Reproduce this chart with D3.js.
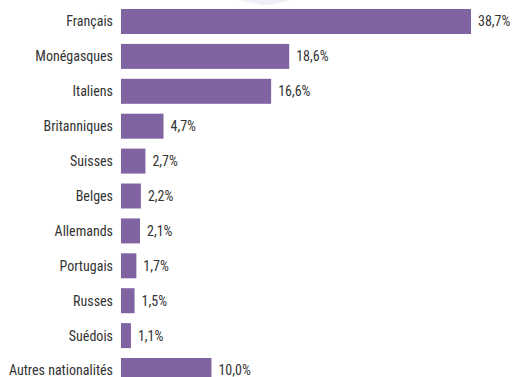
<!DOCTYPE html>
<html><head><meta charset="utf-8">
<script src="https://cdn.jsdelivr.net/npm/d3@7"></script>
<style>
html,body{margin:0;padding:0;background:#fff;}
text{font-family:"Liberation Sans Narrow","Roboto Condensed","Arial Narrow",sans-serif;font-size:14px;fill:#333;}
</style></head>
<body><svg id="c" width="518" height="377"></svg>
<script>
const categories = ["Français","Monégasques","Italiens","Britanniques","Suisses","Belges","Allemands","Portugais","Russes","Suédois","Autres nationalités"];
const values = [38.7,18.6,16.6,4.7,2.7,2.2,2.1,1.7,1.5,1.1,10.0];
const valueLabels = ["38,7%","18,6%","16,6%","4,7%","2,7%","2,2%","2,1%","1,7%","1,5%","1,1%","10,0%"];

const svg = d3.select("#c");
// faint decorative shape at top
svg.append("path").attr("d","M238,0 L292,0 L268,5 L262,5 Z").attr("fill","#f2eef7");

const x0 = 121;
const x = d3.scaleLinear().domain([0, 38.7]).range([x0, 471]);
const y = d3.scaleBand().domain(categories).range([4.05, 387.95]).paddingInner(0.284).paddingOuter(0.142);

const g = svg.append("g");
g.selectAll("rect").data(categories).join("rect")
  .attr("x", x(0)).attr("y", d => y(d))
  .attr("width", (d,i) => x(values[i]) - x(0))
  .attr("height", y.bandwidth())
  .attr("fill", "#8064a2");

g.selectAll("text.cat").data(categories).join("text").attr("class","cat")
  .attr("x", x0 - 8).attr("y", d => y(d) + y.bandwidth()/2)
  .attr("dy","0.35em").attr("text-anchor","end").text(d => d);

g.selectAll("text.val").data(categories).join("text").attr("class","val")
  .attr("x", (d,i) => x(values[i]) + 7).attr("y", d => y(d) + y.bandwidth()/2)
  .attr("dy","0.35em").text((d,i) => valueLabels[i]);
</script></body></html>
